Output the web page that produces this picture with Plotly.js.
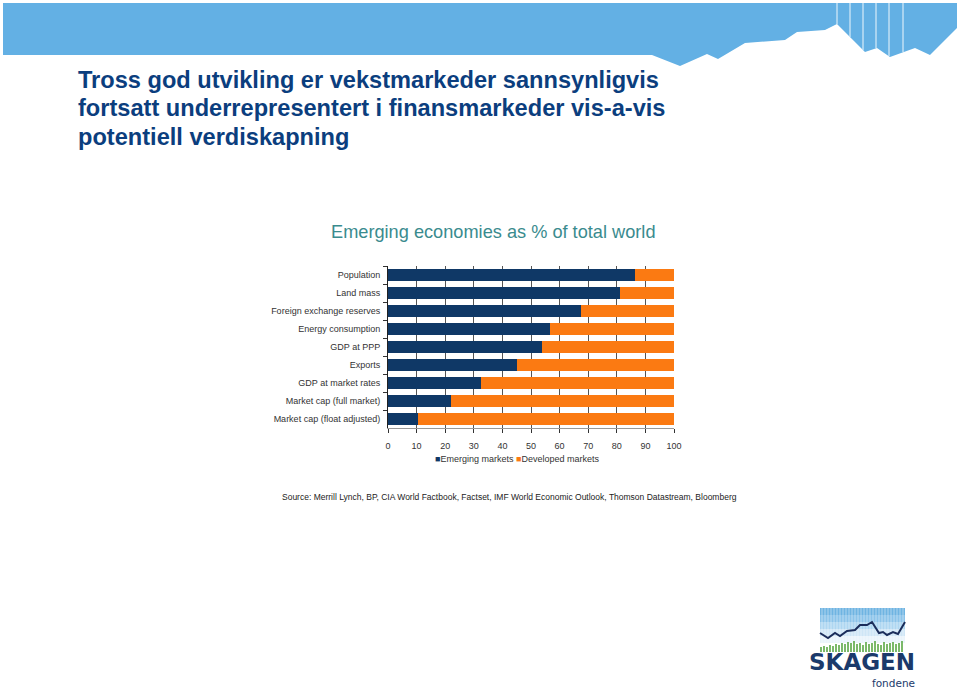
<!DOCTYPE html>
<html>
<head>
<meta charset="utf-8">
<script src="https://cdn.plot.ly/plotly-3.0.1.min.js"></script>
<style>html,body{margin:0;padding:0;background:#fff;}#chart{width:960px;height:690px;}</style>
</head>
<body>
<div id="chart"></div>
<script>
// ---- data ----
var categories = ["Population", "Land mass", "Foreign exchange reserves", "Energy consumption", "GDP at PPP", "Exports", "GDP at market rates", "Market cap (full market)", "Market cap (float adjusted)"];
var emerging = [86.5, 81, 67.5, 56.5, 54, 45, 32.5, 22, 10.5];
var developed = emerging.map(function (v) { return 100 - v; });
var seriesNames = ["Emerging markets", "Developed markets"];
var xTicks = [0, 10, 20, 30, 40, 50, 60, 70, 80, 90, 100];
var titleLines = ["Tross god utvikling er vekstmarkeder sannsynligvis", "fortsatt underrepresentert i finansmarkeder vis-a-vis", "potentiell verdiskapning"];

// ---- layout geometry ----
var W = 960, H = 690;
var L = 388, R = 674, T = 266, B = 428;
function px(x) { return (x - L) / (R - L); }
function py(y) { return (B - y) / (B - T); }
function pathOf(pts) {
  return pts.map(function (p, i) { return (i ? "L" : "M") + px(p[0]).toFixed(5) + "," + py(p[1]).toFixed(5); }).join(" ");
}

var navy = "#0f3866", orange = "#fb7a12";
var narrow = "Liberation Sans Narrow, Arial Narrow, Liberation Sans, Arial, sans-serif";

var traces = [
  { type: "bar", orientation: "h", y: categories, x: emerging, name: seriesNames[0], marker: { color: navy }, showlegend: false, hoverinfo: "x+y" },
  { type: "bar", orientation: "h", y: categories, x: developed, name: seriesNames[1], marker: { color: orange }, showlegend: false, hoverinfo: "x+y" }
];

var shapes = [];
// top banner
var banner = [[3,3],[957,3],[957,28],[930,55],[915,48],[890,57],[877,48],[865,52],[837,24],[825,30],[797,32],[785,40],[745,43],[718,59],[707,54],[680,66],[652,55],[3,55]];
shapes.push({ type: "path", xref: "paper", yref: "paper", path: pathOf(banner) + " Z", fillcolor: "#63b0e4", line: { width: 0 }, layer: "below" });
var stripes = [[837,24],[850,37],[863,50],[876,48],[889,56],[903,52]];
stripes.forEach(function (s) {
  shapes.push({ type: "line", xref: "paper", yref: "paper", x0: px(s[0]), x1: px(s[0]), y0: py(3), y1: py(s[1]), line: { color: "#d8ecf8", width: 1.2 }, layer: "below" });
});

// logo box (simulated gradient)
var bands = ["#6fb4e2", "#8cc4ea", "#aed6f1", "#cfe6f6", "#eaf4fb"];
for (var i = 0; i < bands.length; i++) {
  var y0 = 608 + i * 7, y1 = y0 + 7;
  shapes.push({ type: "rect", xref: "paper", yref: "paper", x0: px(820), x1: px(905), y0: py(y0), y1: py(y1), fillcolor: bands[i], line: { width: 0 }, layer: "above" });
}
for (var sx = 822; sx < 905; sx += 3) {
  shapes.push({ type: "line", xref: "paper", yref: "paper", x0: px(sx), x1: px(sx), y0: py(608), y1: py(643), line: { color: "rgba(255,255,255,0.55)", width: 0.8 }, layer: "above" });
}
var greenH = [3,4,3,5,4,6,5,7,6,8,7,9,6,7,5,8,6,7,9,6,5,8,6,7,8,6,7,9];
for (var g = 0; g < greenH.length; g++) {
  var gx = 821 + g * 3;
  shapes.push({ type: "line", xref: "paper", yref: "paper", x0: px(gx), x1: px(gx), y0: py(652), y1: py(652 - greenH[g] - 2), line: { color: "#5aa845", width: 1.6 }, layer: "above" });
}
var logoLine = [[820,633],[828,638],[835,633],[840,636],[847,631],[855,630],[860,625],[867,625],[872,622],[879,633],[883,632],[887,635],[893,632],[898,634],[905,622]];
shapes.push({ type: "path", xref: "paper", yref: "paper", path: pathOf(logoLine), line: { color: "#1b2d5a", width: 2 }, layer: "above" });

var annotations = [
  { xref: "paper", yref: "paper", x: px(493), y: py(232), xanchor: "center", yanchor: "middle", showarrow: false,
    text: "Emerging economies as % of total world", font: { family: narrow, size: 18.2, color: "#3a8b8e" } },
  { xref: "paper", yref: "paper", x: px(433), y: py(459), xanchor: "left", yanchor: "middle", showarrow: false,
    text: "<span style='color:" + navy + "'>■</span>" + seriesNames[0] + " <span style='color:" + orange + "'>■</span>" + seriesNames[1],
    font: { family: narrow, size: 9, color: "#333" } },
  { xref: "paper", yref: "paper", x: px(280), y: py(497), xanchor: "left", yanchor: "middle", showarrow: false,
    text: "Source: Merrill Lynch, BP, CIA World Factbook, Factset, IMF World Economic Outlook, Thomson Datastream, Bloomberg",
    font: { family: narrow, size: 8.5, color: "#222" } },
  { xref: "paper", yref: "paper", x: px(862), y: py(662), xanchor: "center", yanchor: "middle", showarrow: false,
    text: "<b>SKAGEN</b>", font: { family: "DejaVu Sans, sans-serif", size: 23, color: "#1b3a6b" } },
  { xref: "paper", yref: "paper", x: px(917), y: py(683), xanchor: "right", yanchor: "middle", showarrow: false,
    text: "fondene", font: { family: "DejaVu Sans, sans-serif", size: 10.5, color: "#1b3a6b" } }
];
var titleY = [80, 108.5, 137];
titleLines.forEach(function (t, k) {
  annotations.push({ xref: "paper", yref: "paper", x: px(76), y: py(titleY[k]), xanchor: "left", yanchor: "middle", showarrow: false,
    text: "<b>" + t + "</b>", font: { family: "Liberation Sans, Arial, sans-serif", size: 23.6, color: "#0b3e7e" } });
});

var layout = {
  width: W, height: H,
  margin: { l: L, r: W - R, t: T, b: H - B, pad: 0 },
  paper_bgcolor: "#fff", plot_bgcolor: "#fff",
  barmode: "stack", bargap: 0.28,
  xaxis: {
    range: [0, 100], tickvals: xTicks, ticktext: xTicks.map(String),
    ticks: "outside", ticklen: 4, tickcolor: "#333", showline: true, linecolor: "#999", linewidth: 1,
    ticklabelstandoff: 5,
    showgrid: true, gridcolor: "#555", gridwidth: 1, zeroline: false,
    tickfont: { family: narrow, size: 9, color: "#333" }, fixedrange: true
  },
  yaxis: {
    type: "category", autorange: "reversed", tickson: "boundaries",
    ticks: "outside", ticklen: 4, tickcolor: "#333", showline: true, linecolor: "#222", linewidth: 1,
    ticklabelstandoff: 5,
    showgrid: false, zeroline: false,
    tickfont: { family: narrow, size: 9, color: "#333" }, fixedrange: true
  },
  shapes: shapes,
  annotations: annotations,
  font: { family: narrow }
};

Plotly.newPlot("chart", traces, layout, { displayModeBar: false, staticPlot: true });
</script>
</body>
</html>
